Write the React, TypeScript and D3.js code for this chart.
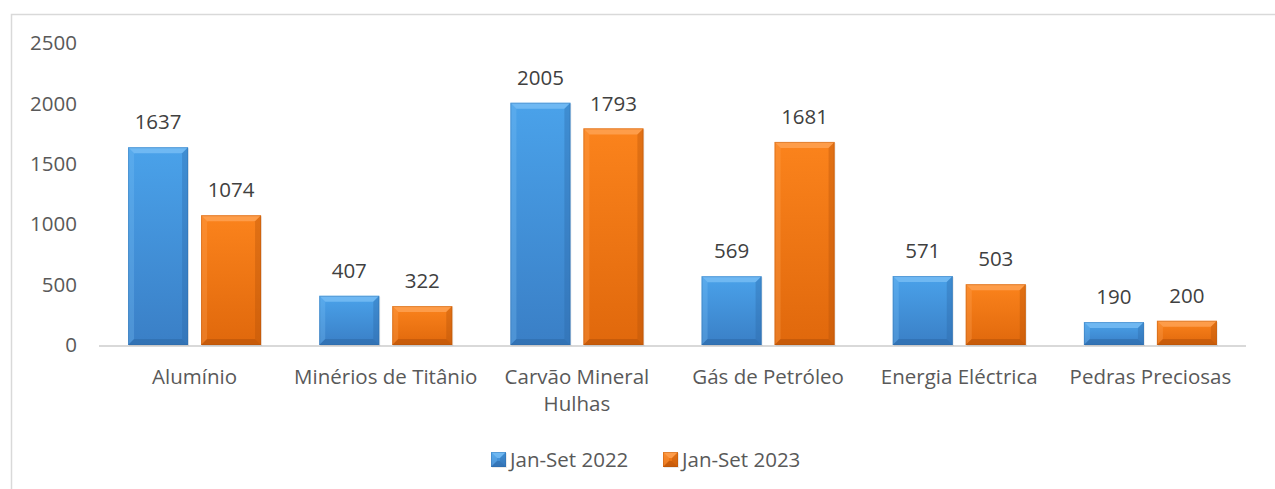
import React from "react";
import * as d3 from "d3";

const categories = [
  ["Alumínio"],
  ["Minérios de Titânio"],
  ["Carvão Mineral", "Hulhas"],
  ["Gás de Petróleo"],
  ["Energia Eléctrica"],
  ["Pedras Preciosas"],
];
const series2022 = [1637, 407, 2005, 569, 571, 190];
const series2023 = [1074, 322, 1793, 1681, 503, 200];
const seriesNames = ["Jan-Set 2022", "Jan-Set 2023"];
const yTicks = [0, 500, 1000, 1500, 2000, 2500];

const W = 1275;
const H = 489;
const FONT = "'Open Sans', 'Noto Sans', sans-serif";
const TXT = "#595959";
const FS = 20.5;

const palettes = [
  { id: "g0", top: "#4aa2ea", bottom: "#3a7fc6", light: "#7cc0f5", dark: "#2c67a6" },
  { id: "g1", top: "#fb831c", bottom: "#e0680c", light: "#ffa55a", dark: "#b3500a" },
];

function Bar({ x, y, w, h, p }: any) {
  const b = Math.min(6, h / 2, w / 2);
  const x2 = x + w;
  const y2 = y + h;
  return (
    <g>
      <rect x={x + 1} y={y + 1} width={w} height={h} fill="#000" opacity={0.08} />
      <rect x={x} y={y} width={w} height={h} fill={`url(#${p.id})`} />
      <polygon points={`${x},${y} ${x2},${y} ${x2 - b},${y + b} ${x + b},${y + b}`} fill={p.light} opacity={0.75} />
      <polygon points={`${x},${y} ${x + b},${y + b} ${x + b},${y2 - b} ${x},${y2}`} fill={p.light} opacity={0.3} />
      <polygon points={`${x2},${y} ${x2},${y2} ${x2 - b},${y2 - b} ${x2 - b},${y + b}`} fill={p.dark} opacity={0.35} />
      <polygon points={`${x},${y2} ${x2},${y2} ${x2 - b},${y2 - b} ${x + b},${y2 - b}`} fill={p.dark} opacity={0.55} />
      <rect x={x + 0.5} y={y + 0.5} width={w - 1} height={h - 1} fill="none" stroke={p.dark} strokeOpacity={0.35} />
    </g>
  );
}

export default function App() {
  const x0 = 99;
  const x1 = 1246;
  const yBase = 345;
  const yTop = 43;
  const y = d3.scaleLinear().domain([0, 2500]).range([yBase, yTop]);
  const xg = d3.scaleBand<number>().domain(categories.map((_, i) => i)).range([x0, x1]).paddingInner(0).paddingOuter(0);
  const gw = xg.bandwidth();
  const barW = 60;
  const gap = 13;
  const pad = (gw - 2 * barW - gap) / 2;
  const data = [series2022, series2023];

  return (
    <svg width={W} height={H} style={{ position: "absolute", left: 0, top: 0, fontFamily: FONT }}>
      <defs>
        {palettes.map((p) => (
          <linearGradient key={p.id} id={p.id} x1="0" y1="0" x2="0" y2="1">
            <stop offset="0" stopColor={p.top} />
            <stop offset="1" stopColor={p.bottom} />
          </linearGradient>
        ))}
      </defs>
      <rect x={0} y={0} width={W} height={H} fill="#fff" />
      <rect x={11.5} y={14.5} width={W} height={H} fill="#fff" stroke="#d9d9d9" strokeWidth={1.5} />

      {yTicks.map((t) => (
        <text key={t} x={77} y={y(t)} dy="0.35em" textAnchor="end" fontSize={FS} fill={TXT}>
          {t}
        </text>
      ))}

      <line x1={x0} x2={x1} y1={yBase + 1} y2={yBase + 1} stroke="#d9d9d9" strokeWidth={2} />

      {categories.map((cat, i) => {
        const gx = xg(i)!;
        return (
          <g key={i}>
            {data.map((s, k) => {
              const bx = gx + pad + k * (barW + gap);
              const v = s[i];
              const top = y(v);
              return (
                <g key={k}>
                  <Bar x={bx} y={top} w={barW} h={yBase - top} p={palettes[k]} />
                  <text x={bx + barW / 2} y={top - 25} dy="0.35em" textAnchor="middle" fontSize={FS} fill="#404040">
                    {v}
                  </text>
                </g>
              );
            })}
            {cat.map((line, li) => (
              <text key={li} x={gx + gw / 2} y={377 + li * 27} dy="0.35em" textAnchor="middle" fontSize={FS} fill={TXT}>
                {line}
              </text>
            ))}
          </g>
        );
      })}

      {seriesNames.map((n, k) => {
        const lx = [491, 663][k];
        return (
          <g key={n}>
            <Bar x={lx} y={452} w={15} h={15} p={palettes[k]} />
            <text x={lx + 19} y={459.5} dy="0.35em" fontSize={FS} fill={TXT}>
              {n}
            </text>
          </g>
        );
      })}
    </svg>
  );
}
